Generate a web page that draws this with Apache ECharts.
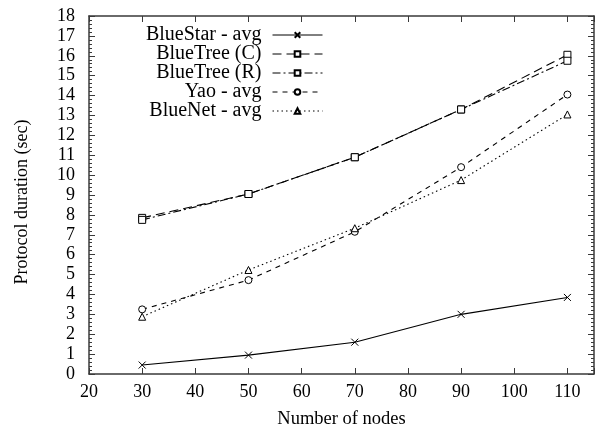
<!DOCTYPE html>
<html>
<head>
<meta charset="utf-8">
<script src="https://cdn.jsdelivr.net/npm/echarts@6/dist/echarts.min.js"></script>
<style>
  html, body { margin: 0; padding: 0; background: #fff; }
  #chart { width: 599px; height: 433px; }
</style>
</head>
<body>
<div id="chart"></div>
<script>
// Network size (x) and protocol durations in seconds (y)
const nodes = [30, 50, 70, 90, 110];
const blueStarAvg  = [0.45, 0.95, 1.6, 3.0, 3.85];
const blueTreeC    = [7.85, 9.05, 10.9, 13.3, 16.05];
const blueTreeR    = [7.75, 9.05, 10.9, 13.3, 15.75];
const yaoAvg       = [3.25, 4.72, 7.15, 10.4, 14.05];
const blueNetAvg   = [2.88, 5.23, 7.33, 9.75, 13.05];

const seriesNames = ['BlueStar - avg', 'BlueTree (C)', 'BlueTree (R)', 'Yao - avg', 'BlueNet - avg'];
const seriesValues = [blueStarAvg, blueTreeC, blueTreeR, yaoAvg, blueNetAvg];

const xTitle = 'Number of nodes';
const yTitle = 'Protocol duration (sec)';

const FONT = '"Liberation Serif", "DejaVu Serif", serif';
const AXIS = '#3a3a3a';

// marker and dash style for each series
const looks = [
  { symbol: 'path://M0,0L10,10M0,10L10,0', size: 7, dash: 'solid' },
  { symbol: 'rect', size: 7, dash: [9, 5] },
  { symbol: 'rect', size: 7, dash: [8, 3, 2, 3] },
  { symbol: 'circle', size: 7, dash: [5, 5] },
  { symbol: 'triangle', size: 7, dash: [1.5, 3] }
];

const series = seriesNames.map((name, i) => ({
  name,
  type: 'line',
  data: nodes.map((n, j) => [n, seriesValues[i][j]]),
  symbol: looks[i].symbol,
  symbolSize: looks[i].size,
  showAllSymbol: true,
  lineStyle: { color: '#000', width: 1.1, type: looks[i].dash },
  itemStyle: { color: i === 0 ? '#000' : '#fff', borderColor: '#000', borderWidth: 1 },
  emphasis: { disabled: true },
  animation: false
}));

// one legend block per entry so the sample lines line up on the right
const legendTops = [25, 44, 63, 82, 101];
const legends = seriesNames.map((name, i) => ({
  data: [name],
  orient: 'vertical',
  align: 'right',
  right: 276,
  top: legendTops[i],
  padding: 0,
  itemWidth: 50,
  itemHeight: 7,
  itemGap: 0,
  selectedMode: false,
  lineStyle: { width: 1 },
  textStyle: { fontFamily: FONT, fontSize: 20, color: '#000', lineHeight: 20, padding: [0, 6, 0, 0] }
}));

const axisLine = { show: true, onZero: false, lineStyle: { color: AXIS, width: 1.5 } };

const option = {
  backgroundColor: '#fff',
  animation: false,
  legend: legends,
  grid: { left: 89, right: 5, top: 16, bottom: 59, containLabel: false, outerBoundsMode: 'none' },
  xAxis: [
    {
      type: 'value', min: 20, max: 115, interval: 10,
      name: xTitle, nameLocation: 'middle', nameGap: 36,
      nameTextStyle: { fontFamily: FONT, fontSize: 18.5, color: '#000' },
      axisLine,
      axisTick: { show: true, inside: true, length: 6, lineStyle: { color: AXIS } },
      axisLabel: {
        fontFamily: FONT, fontSize: 18, color: '#000', margin: 9,
        formatter: v => (v % 10 === 0 ? String(v) : '')
      },
      splitLine: { show: false }
    },
    {
      type: 'value', position: 'top', min: 20, max: 115, interval: 10,
      axisLine,
      axisTick: { show: true, inside: true, length: 6, lineStyle: { color: AXIS } },
      axisLabel: { show: false },
      splitLine: { show: false }
    }
  ],
  yAxis: [
    {
      type: 'value', min: 0, max: 18, interval: 1,
      name: yTitle, nameLocation: 'middle', nameGap: 58,
      nameTextStyle: { fontFamily: FONT, fontSize: 18, color: '#000', padding: [0, 14, 0, 0] },
      axisLine,
      axisTick: { show: true, inside: true, length: 6, lineStyle: { color: AXIS } },
      minorTick: { show: true, splitNumber: 5, length: 3, lineStyle: { color: AXIS } },
      axisLabel: { fontFamily: FONT, fontSize: 18, color: '#000', margin: 14 },
      splitLine: { show: false }
    },
    {
      type: 'value', position: 'right', min: 0, max: 18, interval: 1,
      axisLine,
      axisTick: { show: true, inside: true, length: 6, lineStyle: { color: AXIS } },
      minorTick: { show: true, splitNumber: 5, length: 3, lineStyle: { color: AXIS } },
      axisLabel: { show: false },
      splitLine: { show: false }
    }
  ],
  series
};

const chart = echarts.init(document.getElementById('chart'), null, { renderer: 'canvas' });
chart.setOption(option);
</script>
</body>
</html>
